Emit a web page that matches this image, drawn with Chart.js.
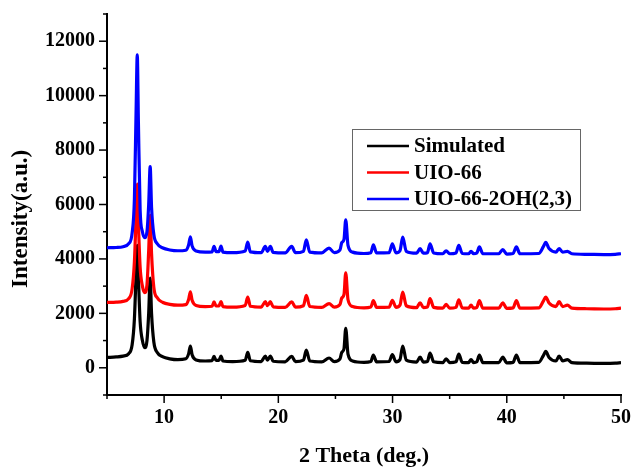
<!DOCTYPE html>
<html>
<head>
<meta charset="utf-8">
<script src="https://cdn.jsdelivr.net/npm/chart.js@4.4.0/dist/chart.umd.min.js"></script>
<style>
html, body { margin: 0; padding: 0; background: #fff; }
</style>
</head>
<body>
<canvas id="xrdChart" width="633" height="467"></canvas>
<script>
// 2 theta positions (deg.)
const twoTheta = [
	5.0, 5.8, 6.4, 6.9, 7.2, 7.4, 7.55, 7.65, 7.75, 7.9,
	8.1, 8.3, 8.5, 8.65, 8.78, 8.9, 9.1, 9.4, 9.9, 10.5,
	11.2, 11.9, 12.15, 12.3, 12.45, 12.8, 13.6, 14.2, 14.37, 14.55,
	14.8, 14.98, 15.15, 16.0, 17.1, 17.32, 17.55, 18.5, 18.86, 19.05,
	19.3, 19.55, 20.6, 21.17, 21.5, 22.2, 22.45, 22.75, 23.8, 24.44,
	24.9, 25.4, 25.55, 25.75, 25.9, 26.1, 26.5, 27.5, 28.1, 28.32,
	28.6, 29.7, 29.98, 30.3, 30.65, 30.89, 31.2, 32.1, 32.41, 32.7,
	33.05, 33.28, 33.6, 34.4, 34.69, 35.0, 35.55, 35.8, 36.1, 36.65,
	36.87, 37.1, 37.38, 37.6, 37.9, 39.3, 39.65, 40.0, 40.55, 40.84,
	41.15, 42.8, 43.2, 43.41, 43.7, 44.3, 44.58, 44.9, 45.31, 45.7,
	47.0, 48.5, 49.5, 50.0
];

const simulated = [
	380, 400, 430, 520, 850, 1800, 3500, 4500, 3300, 1700,
	1000, 740, 1000, 2000, 3300, 2000, 950, 560, 400, 330,
	300, 330, 520, 800, 480, 290, 250, 260, 420, 270,
	270, 430, 250, 230, 280, 570, 260, 230, 430, 280,
	430, 240, 220, 420, 230, 280, 650, 250, 220, 360,
	230, 330, 560, 700, 1450, 500, 250, 200, 230, 470,
	220, 230, 480, 220, 300, 800, 280, 210, 390, 210,
	230, 540, 220, 190, 330, 190, 220, 500, 200, 190,
	300, 190, 220, 470, 190, 190, 390, 180, 200, 470,
	190, 200, 450, 600, 380, 250, 430, 250, 300, 190,
	170, 160, 170, 190
];

const uio66 = [
	2400, 2410, 2440, 2540, 2900, 3900, 5600, 6750, 5300, 3700,
	3000, 2760, 3050, 4300, 5600, 4200, 2950, 2570, 2400, 2330,
	2300, 2320, 2520, 2790, 2480, 2290, 2250, 2260, 2420, 2270,
	2270, 2430, 2250, 2230, 2290, 2600, 2260, 2230, 2430, 2280,
	2430, 2240, 2220, 2420, 2230, 2280, 2660, 2250, 2220, 2360,
	2230, 2330, 2560, 2700, 3490, 2500, 2250, 2200, 2230, 2470,
	2220, 2230, 2480, 2220, 2300, 2780, 2280, 2210, 2390, 2210,
	2230, 2540, 2220, 2190, 2330, 2190, 2220, 2500, 2200, 2190,
	2300, 2190, 2220, 2470, 2190, 2190, 2390, 2180, 2200, 2470,
	2190, 2200, 2450, 2600, 2380, 2250, 2430, 2250, 2300, 2190,
	2170, 2160, 2170, 2190
];

const uio66OH = [
	4410, 4420, 4450, 4560, 4950, 6200, 9500, 11500, 9000, 5800,
	5000, 4780, 5000, 6000, 7390, 5900, 4900, 4560, 4400, 4330,
	4300, 4320, 4520, 4810, 4480, 4290, 4250, 4260, 4460, 4270,
	4270, 4470, 4250, 4230, 4290, 4620, 4260, 4230, 4460, 4280,
	4460, 4240, 4220, 4460, 4230, 4280, 4700, 4250, 4220, 4400,
	4230, 4330, 4600, 4720, 5440, 4500, 4250, 4200, 4230, 4520,
	4220, 4230, 4550, 4220, 4300, 4800, 4280, 4210, 4375, 4210,
	4230, 4550, 4220, 4190, 4300, 4190, 4220, 4500, 4200, 4190,
	4280, 4190, 4220, 4440, 4190, 4190, 4340, 4180, 4200, 4440,
	4190, 4200, 4450, 4610, 4380, 4250, 4380, 4250, 4280, 4190,
	4170, 4160, 4170, 4190
];

const seriesLabels = ["Simulated", "UIO-66", "UIO-66-2OH(2,3)"];
const seriesColors = ["#000000", "#ff0000", "#0000ff"];

const FONT = '"Liberation Serif", "Times New Roman", serif';

function toPoints(ys) {
	return twoTheta.map((x, i) => ({ x: x, y: ys[i] }));
}

// short/long tick marks on the outside of the two axes
const tickMarks = {
	id: 'tickMarks',
	afterDraw(chart) {
		const ctx = chart.ctx;
		const area = chart.chartArea;
		const xs = chart.scales.x;
		const ys = chart.scales.y;
		ctx.save();
		ctx.strokeStyle = '#000';
		ctx.lineWidth = 1.5;
		ys.ticks.forEach(t => {
			const py = ys.getPixelForValue(t.value);
			const len = t.value % 2000 === 0 ? 8 : 4;
			ctx.beginPath();
			ctx.moveTo(area.left - len, py);
			ctx.lineTo(area.left, py);
			ctx.stroke();
		});
		xs.ticks.forEach(t => {
			const px = xs.getPixelForValue(t.value);
			const len = t.value % 10 === 0 ? 8 : 4;
			ctx.beginPath();
			ctx.moveTo(px, area.bottom);
			ctx.lineTo(px, area.bottom + len);
			ctx.stroke();
		});
		ctx.restore();
	}
};

// boxed legend sitting inside the plot
const boxLegend = {
	id: 'boxLegend',
	afterDraw(chart) {
		const ctx = chart.ctx;
		ctx.save();
		ctx.fillStyle = '#fff';
		ctx.fillRect(352, 129, 228, 81);
		ctx.strokeStyle = '#666';
		ctx.lineWidth = 1;
		ctx.strokeRect(352.5, 129.5, 228, 81);
		ctx.font = 'bold 21px ' + FONT;
		ctx.textBaseline = 'middle';
		chart.data.datasets.forEach((ds, i) => {
			const y = 146 + i * 26.5;
			ctx.strokeStyle = ds.borderColor;
			ctx.lineWidth = 2.5;
			ctx.beginPath();
			ctx.moveTo(367, y);
			ctx.lineTo(409, y);
			ctx.stroke();
			ctx.fillStyle = '#000';
			ctx.fillText(ds.label, 414, y + 1);
		});
		ctx.restore();
	}
};

const seriesData = [simulated, uio66, uio66OH];

const xrdChart = new Chart(document.getElementById("xrdChart"), {
	type: 'line',
	data: {
		datasets: seriesData.map((ys, i) => ({
			label: seriesLabels[i],
			data: toPoints(ys),
			borderColor: seriesColors[i],
			backgroundColor: seriesColors[i],
			borderWidth: 3.2,
			pointRadius: 0,
			fill: false,
			cubicInterpolationMode: 'monotone',
			order: 3 - i
		}))
	},
	options: {
		responsive: false,
		animation: false,
		layout: { padding: { top: 14, right: 12, left: 0, bottom: 0 } },
		plugins: {
			legend: { display: false },
			tooltip: { enabled: false }
		},
		scales: {
			x: {
				type: 'linear',
				min: 5,
				max: 50,
				afterFit: s => { s.height = 72; s.paddingLeft = 0; s.paddingRight = 0; },
				grid: { display: false, drawTicks: false },
				border: { display: true, color: '#000', width: 2 },
				ticks: {
					stepSize: 5,
					autoSkip: false,
					maxRotation: 0,
					padding: 11,
					color: '#000',
					font: { family: FONT, size: 20, weight: 'bold' },
					callback: v => v % 10 === 0 ? v : ''
				},
				title: {
					display: true,
					text: '2 Theta (deg.)',
					color: '#000',
					font: { family: FONT, size: 22, weight: 'bold', lineHeight: 1 },
					padding: { top: 0, bottom: 0 }
				}
			},
			y: {
				min: -1000,
				max: 13000,
				afterFit: s => { s.width = 107; s.paddingTop = 0; s.paddingBottom = 0; },
				grid: { display: false, drawTicks: false },
				border: { display: true, color: '#000', width: 2 },
				ticks: {
					stepSize: 1000,
					autoSkip: false,
					padding: 12,
					color: '#000',
					font: { family: FONT, size: 20, weight: 'bold' },
					callback: v => (v >= 0 && v <= 12000 && v % 2000 === 0) ? v : ''
				},
				title: {
					display: true,
					// trailing spaces push the rotated text a little lower, as in the original
					text: 'Intensity(a.u.)     ',
					color: '#000',
					font: { family: FONT, size: 23, weight: 'bold', lineHeight: 1 },
					padding: { top: 10, bottom: 0 }
				}
			}
		}
	},
	plugins: [tickMarks, boxLegend]
});
</script>
</body>
</html>
